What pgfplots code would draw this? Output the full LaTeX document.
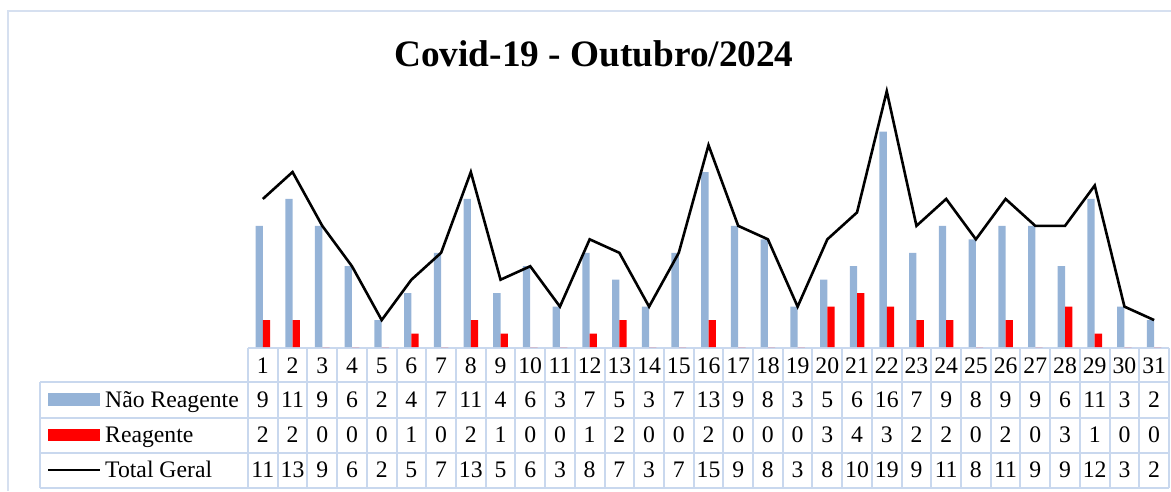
\documentclass[border=0pt]{standalone}
\usepackage{pgfplots}
\usepackage{pgfplotstable}
\pgfplotsset{compat=1.18}
\usepackage{fontspec}
\setmainfont{Liberation Serif}
\definecolor{barblue}{HTML}{95B3D7}
\definecolor{barred}{HTML}{FF0000}
\definecolor{gridcol}{HTML}{C9D8EE}
\definecolor{framecol}{HTML}{D6E0F0}
\newcommand{\tabfont}{\fontsize{23.7}{28}\selectfont}
\pgfplotstableread{
x day nr r tot
0 1 9 2 11
1 2 11 2 13
2 3 9 0 9
3 4 6 0 6
4 5 2 0 2
5 6 4 1 5
6 7 7 0 7
7 8 11 2 13
8 9 4 1 5
9 10 6 0 6
10 11 3 0 3
11 12 7 1 8
12 13 5 2 7
13 14 3 0 3
14 15 7 0 7
15 16 13 2 15
16 17 9 0 9
17 18 8 0 8
18 19 3 0 3
19 20 5 3 8
20 21 6 4 10
21 22 16 3 19
22 23 7 2 9
23 24 9 2 11
24 25 8 0 8
25 26 9 2 11
26 27 9 0 9
27 28 6 3 9
28 29 11 1 12
29 30 3 0 3
30 31 2 0 2
}\datatable
\begin{document}
\begin{tikzpicture}
\useasboundingbox (0pt,0pt) rectangle (1171pt,-491pt);
% outer frame
\draw[framecol, line width=1.5pt] (8pt,-491pt) -- (8pt,-11pt) -- (1171pt,-11pt);
% title
\node[anchor=base, font=\fontsize{37.3}{44}\selectfont\bfseries, inner sep=0pt] at (594pt,-66.7pt) {Covid-19 - Outubro/2024};
% data table grid
\foreach \k in {0,...,31} {
  \draw[gridcol, line width=2pt] ({248pt+\k*29.71pt},-348pt) -- ({248pt+\k*29.71pt},-488pt);
}
\draw[gridcol, line width=2pt] (248pt,-348pt) -- (1169pt,-348pt);
\foreach \yy in {382,418,453,488} {
  \draw[gridcol, line width=2pt] (40pt,-\yy pt) -- (1169pt,-\yy pt);
}
\draw[gridcol, line width=2pt] (40pt,-382pt) -- (40pt,-488pt);
% legend keys
\fill[barblue] (48pt,-393pt) rectangle (100pt,-406pt);
\fill[barred] (48pt,-429pt) rectangle (100pt,-441pt);
\draw[black, line width=2.2pt] (48pt,-470pt) -- (100pt,-470pt);
\node[anchor=base west, inner sep=0pt, font=\tabfont] at (105pt,-407pt) {Não Reagente};
\node[anchor=base west, inner sep=0pt, font=\tabfont] at (105pt,-442.7pt) {Reagente};
\node[anchor=base west, inner sep=0pt, font=\tabfont] at (105pt,-477.7pt) {Total Geral};
\begin{axis}[
  at={(248pt,-347pt)}, anchor=south west,
  scale only axis, width=921pt, height=269.2pt,
  xmin=-0.5, xmax=30.5, ymin=0, ymax=20,
  axis lines=none, clip=false,
]
\addplot[ybar, bar width=7.3pt, bar shift=-3.65pt, fill=barblue, draw=none] table[x=x, y=nr] {\datatable};
\addplot[ybar, bar width=7.3pt, bar shift=3.65pt, fill=barred, draw=none] table[x=x, y=r] {\datatable};
\addplot[black, line width=2.6pt, mark=none, line join=miter] table[x=x, y=tot] {\datatable};
% table text
\addplot[draw=none, mark=none, point meta=explicit symbolic, nodes near coords,
  every node near coord/.append style={anchor=base, inner sep=0pt, font=\tabfont, text=black}]
  table[x=x, y expr=-1.954, meta=day] {\datatable};
\addplot[draw=none, mark=none, point meta=explicit symbolic, nodes near coords,
  every node near coord/.append style={anchor=base, inner sep=0pt, font=\tabfont, text=black}]
  table[x=x, y expr=-4.458, meta=nr] {\datatable};
\addplot[draw=none, mark=none, point meta=explicit symbolic, nodes near coords,
  every node near coord/.append style={anchor=base, inner sep=0pt, font=\tabfont, text=black}]
  table[x=x, y expr=-7.110, meta=r] {\datatable};
\addplot[draw=none, mark=none, point meta=explicit symbolic, nodes near coords,
  every node near coord/.append style={anchor=base, inner sep=0pt, font=\tabfont, text=black}]
  table[x=x, y expr=-9.710, meta=tot] {\datatable};
\end{axis}
\end{tikzpicture}
\end{document}
